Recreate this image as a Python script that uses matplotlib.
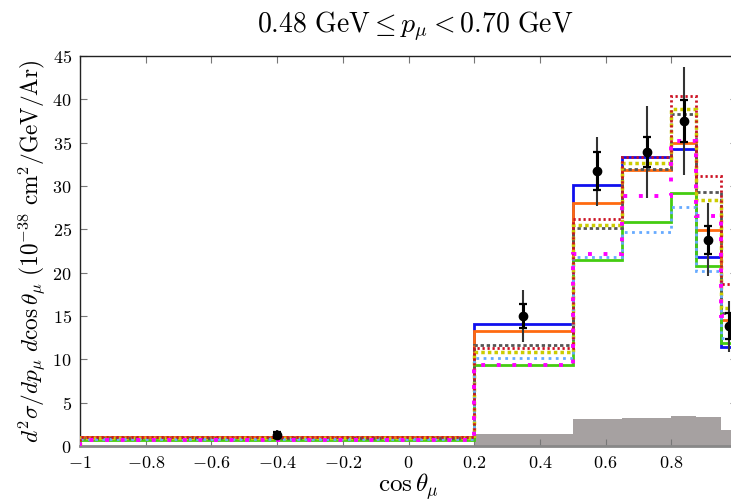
import numpy as np
import matplotlib
matplotlib.use("Agg")
import matplotlib.pyplot as plt
from matplotlib.ticker import FuncFormatter, MultipleLocator

plt.rcParams["mathtext.fontset"] = "cm"
plt.rcParams["font.family"] = ["DejaVu Serif"]

# cos(theta_mu) bin edges for this momentum slice
edges = [-1.0, 0.2, 0.5, 0.65, 0.8, 0.875, 0.95, 1.0]
centers = [-0.4, 0.35, 0.575, 0.725, 0.8375, 0.9125, 0.975]

# measured cross section with inner (stat) and outer (total) uncertainties
data_val = [1.25, 15.0, 31.7, 33.9, 37.5, 23.8, 13.8]
data_stat = [0.35, 1.4, 2.2, 1.7, 2.4, 1.6, 1.5]
data_tot = [0.6, 3.0, 4.0, 5.3, 6.2, 4.2, 2.9]

# generator predictions (per bin)
pred_blue = [1.0, 14.1, 30.1, 33.4, 34.3, 21.8, 11.4]
pred_orange = [1.05, 13.3, 28.0, 31.8, 35.0, 24.9, 14.5]
pred_green = [0.7, 9.4, 21.5, 25.8, 29.2, 20.8, 11.9]
pred_gray = [0.95, 11.6, 25.1, 32.0, 38.3, 29.3, 15.4]
pred_yellow = [0.9, 10.9, 25.5, 32.7, 38.9, 28.4, 15.9]
pred_lightblue = [0.8, 10.2, 21.8, 24.7, 27.6, 20.2, 12.5]
pred_red = [1.0, 11.3, 26.2, 33.3, 40.4, 31.1, 18.7]
pred_magenta = [0.7, 9.4, 22.2, 28.8, 35.2, 26.5, 15.0]

# background estimate
background = [0.0, 1.35, 3.1, 3.2, 3.45, 3.3, 1.85]

fig = plt.figure(figsize=(7.31, 5.01), dpi=100)
ax = fig.add_axes([80 / 731, 55 / 501, 657 / 731, 390 / 501])

ax.stairs(background, edges, fill=True, color="#a6a1a1", linewidth=0, zorder=1)

lw = 2.0
ax.stairs(pred_blue, edges, color="#1010ee", lw=lw, zorder=3)
ax.stairs(pred_orange, edges, color="#ff6a10", lw=lw, zorder=3)
ax.stairs(pred_green, edges, color="#44cc11", lw=lw, zorder=3)
ax.stairs(pred_gray, edges, color="#555555", lw=lw, ls=(0, (1.2, 1.0)), zorder=4)
ax.stairs(pred_yellow, edges, color="#cccc00", lw=lw + 0.5, ls=(0, (1.0, 0.9)), zorder=4)
ax.stairs(pred_lightblue, edges, color="#66aaff", lw=lw, ls=(0, (1.0, 1.6)), zorder=4)
ax.stairs(pred_red, edges, color="#cc1122", lw=lw, ls=(0, (0.8, 1.0)), zorder=5)
ax.stairs(pred_magenta, edges, color="#ff00ff", lw=lw + 0.8, ls=(0, (1.0, 3.0)), zorder=5)

ax.errorbar(centers, data_val, yerr=data_tot, fmt="none", ecolor="#333333",
            elinewidth=1.5, capsize=0, zorder=6)
ax.errorbar(centers, data_val, yerr=data_stat, fmt="o", color="black",
            ms=6, elinewidth=2.2, capsize=3, capthick=1.6, zorder=7)

ax.set_xlim(-1.0, 1.0)
ax.set_ylim(0, 45)
ax.xaxis.set_major_locator(MultipleLocator(0.2))
ax.yaxis.set_major_locator(MultipleLocator(5))


def fmt_x(v, pos):
    if abs(v) < 1e-9:
        return r"$0$"
    if v > 0.99:
        return ""
    return r"$%s$" % ("%g" % round(v, 2))


def fmt_y(v, pos):
    return r"$%s$" % ("%g" % round(v, 2))


ax.xaxis.set_major_formatter(FuncFormatter(fmt_x))
ax.yaxis.set_major_formatter(FuncFormatter(fmt_y))
ax.tick_params(direction="in", top=True, right=True, length=5, width=0.8,
               color="#777777", labelsize=13, pad=6)
ax.tick_params(axis="y", pad=6)

for side in ("top", "left", "right"):
    ax.spines[side].set_color("#222222")
    ax.spines[side].set_linewidth(1.0)
ax.spines["bottom"].set_color("#888888")
ax.spines["bottom"].set_linewidth(2.0)

ax.set_title(r"$0.48\ \mathrm{GeV} \leq p_\mu < 0.70\ \mathrm{GeV}$",
             fontsize=20, pad=17, x=0.51)
ax.set_xlabel(r"$\cos\theta_\mu$", fontsize=18, labelpad=-0.5)
ax.set_ylabel(r"$d^2\sigma/dp_\mu\ d\cos\theta_\mu\ (10^{-38}\ \mathrm{cm}^2/\mathrm{GeV/Ar})$",
              fontsize=16.8, labelpad=3)

fig.savefig("out.png", dpi=100)
